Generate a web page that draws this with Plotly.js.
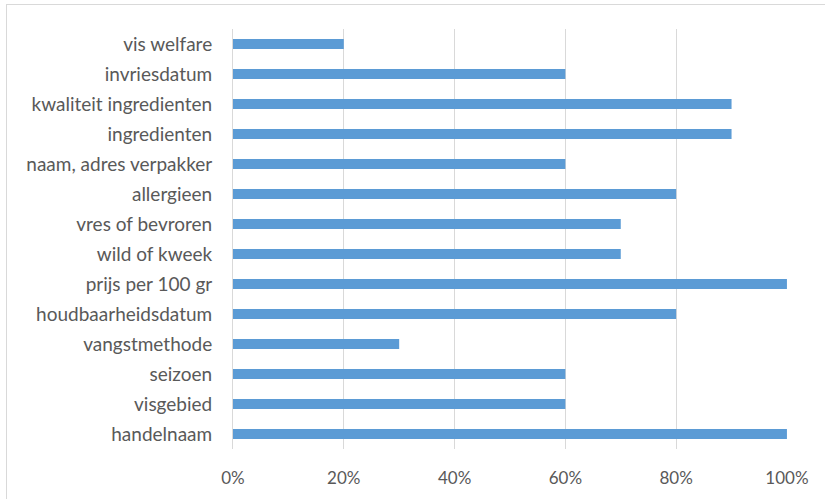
<!DOCTYPE html>
<html>
<head>
<meta charset="utf-8">
<script src="https://cdn.plot.ly/plotly-3.0.1.min.js"></script>
<style>
html,body{margin:0;padding:0;background:#fff;overflow:hidden;}
#frame{position:absolute;left:6px;top:4px;width:830px;height:510px;border:1px solid #d9d9d9;box-sizing:border-box;}
#chart{position:absolute;left:0;top:0;width:825px;height:499px;}
</style>
</head>
<body>
<div id="frame"></div>
<div id="chart"></div>
<script>
var categories = ["vis welfare","invriesdatum","kwaliteit ingredienten","ingredienten","naam, adres verpakker","allergieen","vres of bevroren","wild of kweek","prijs per 100 gr","houdbaarheidsdatum","vangstmethode","seizoen","visgebied","handelnaam"];
var values = [0.20,0.60,0.90,0.90,0.60,0.80,0.70,0.70,1.00,0.80,0.30,0.60,0.60,1.00];
var xTickVals = [0,0.2,0.4,0.6,0.8,1.0];
var xTickText = ["0%","20%","40%","60%","80%","100%"];

var trace = {
  type: "bar",
  orientation: "h",
  y: categories,
  x: values,
  width: 0.34,
  marker: {color: "#5B9BD5"},
  hoverinfo: "none"
};
var layout = {
  width: 825, height: 499,
  margin: {l: 233, r: 38, t: 29, b: 50},
  paper_bgcolor: "rgba(0,0,0,0)",
  plot_bgcolor: "rgba(0,0,0,0)",
  font: {family: "Lato, Open Sans, sans-serif", size: 17, color: "#595959"},
  showlegend: false,
  xaxis: {
    range: [0, 1.0001],
    tickvals: xTickVals,
    ticktext: xTickText,
    showgrid: true,
    gridcolor: "#d9d9d9",
    gridwidth: 1,
    zeroline: false,
    showline: false,
    ticks: "",
    ticklabelstandoff: 17,
    tickfont: {size: 17, color: "#595959"}
  },
  yaxis: {
    type: "category",
    autorange: "reversed",
    showgrid: false,
    zeroline: false,
    showline: true,
    linecolor: "#d9d9d9",
    linewidth: 1,
    ticks: "",
    ticklabelstandoff: 16,
    tickfont: {size: 19, color: "#595959"}
  },
  bargap: 0.66
};
Plotly.newPlot("chart", [trace], layout, {displayModeBar: false, staticPlot: true});
</script>
</body>
</html>
